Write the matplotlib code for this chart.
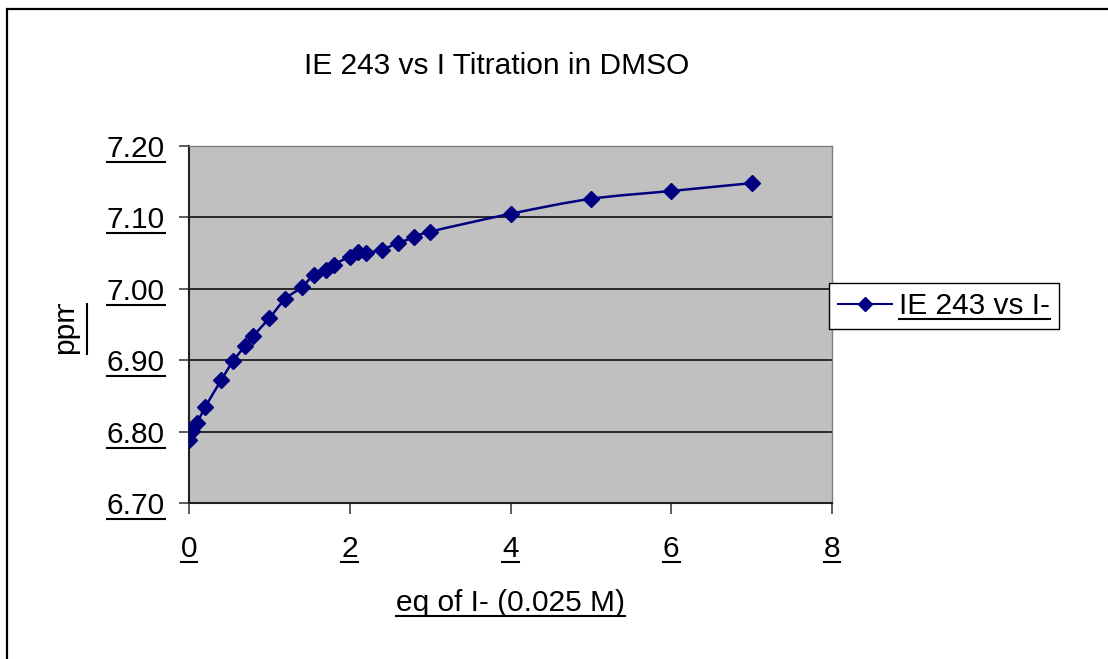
import numpy as np
import matplotlib
matplotlib.use("Agg")
import matplotlib.pyplot as plt
from matplotlib.path import Path
from matplotlib.patches import PathPatch, Rectangle
from matplotlib.lines import Line2D
from matplotlib.transforms import IdentityTransform, Bbox

# Titration data: equivalents of iodide added vs observed shift (ppm)
eq_iodide = [0.0, 0.04, 0.1, 0.2, 0.4, 0.55, 0.7, 0.8, 1.0, 1.2, 1.4, 1.55,
             1.7, 1.8, 2.0, 2.1, 2.2, 2.4, 2.6, 2.8, 3.0, 4.0, 5.0, 6.0, 7.0]
shift_ppm = [6.788, 6.801, 6.812, 6.834, 6.872, 6.899, 6.920, 6.934, 6.959,
             6.986, 7.002, 7.019, 7.026, 7.034, 7.045, 7.051, 7.050, 7.055,
             7.064, 7.072, 7.080, 7.105, 7.126, 7.137, 7.148]

x_ticks = [0, 2, 4, 6, 8]
y_ticks = [6.70, 6.80, 6.90, 7.00, 7.10, 7.20]

TITLE = "IE 243 vs I Titration in DMSO"
XLABEL = "eq of I- (0.025 M)"
YLABEL = "ppm"
SERIES = "IE 243 vs I-"

NAVY = "#000080"
FS = 21.5

plt.rcParams["font.family"] = ["Liberation Sans", "DejaVu Sans"]


def smooth_path(xs, ys):
    """Cubic Bezier through every point (Catmull-Rom style tangents)."""
    pts = np.column_stack([xs, ys])
    n = len(pts)
    verts, codes = [pts[0]], [Path.MOVETO]
    for i in range(n - 1):
        p0 = pts[max(i - 1, 0)]
        p1 = pts[i]
        p2 = pts[i + 1]
        p3 = pts[min(i + 2, n - 1)]
        verts += [p1 + (p2 - p0) / 6.0, p2 - (p3 - p1) / 6.0, p2]
        codes += [Path.CURVE4] * 3
    return Path(verts, codes)


W, H = 1108, 659
fig = plt.figure(figsize=(W / 100, H / 100), dpi=100)
fig.patch.set_facecolor("white")

# chart-area border (runs off the right and bottom edges)
fig.patches.append(Rectangle((7 / W, -0.05), 1.1, (H - 9) / H + 0.05,
                             transform=fig.transFigure, fill=False,
                             edgecolor="black", lw=1.6))

ax = fig.add_axes([189 / W, 156 / H, 643 / W, 357 / H])
ax.set_facecolor("#C0C0C0")

ax.add_patch(PathPatch(smooth_path(eq_iodide, shift_ppm), fill=False,
                       edgecolor=NAVY, lw=1.8, zorder=3))
ax.plot(eq_iodide, shift_ppm, ls="none", marker="D", ms=8.2, color=NAVY,
        zorder=4)

ax.set_xlim(0, 8)
ax.set_ylim(6.70, 7.20)
ax.set_xticks(x_ticks)
ax.set_xticklabels([str(t) for t in x_ticks])
ax.set_yticks(y_ticks)
ax.set_yticklabels([f"{t:.2f}" for t in y_ticks])
ax.yaxis.grid(True, color="black", lw=1.1)
ax.set_axisbelow(True)

ax.tick_params(axis="y", direction="out", length=7, width=1.1, pad=10.5,
               labelsize=FS, color="#303030")
ax.tick_params(axis="x", direction="out", length=8, width=1.1, pad=15,
               labelsize=FS, color="#303030")
for side in ("left", "bottom"):
    ax.spines[side].set_color("#202020")
    ax.spines[side].set_linewidth(1.5)
for side in ("top", "right"):
    ax.spines[side].set_color("#808080")
    ax.spines[side].set_linewidth(1.0)

ax.set_xlabel(XLABEL, fontsize=FS, labelpad=19)
ylab = ax.set_ylabel(YLABEL, fontsize=FS, labelpad=20)

fig.text(497 / W, 1 - 66 / H, TITLE, fontsize=FS, ha="center", va="center")

handle = Line2D([], [], color=NAVY, lw=1.5, marker="D", ms=7)
leg = ax.legend([handle], [SERIES], loc="center left",
                bbox_to_anchor=((829 - 189) / 643, (503 - 306) / 357),
                fontsize=FS, frameon=True, fancybox=False, framealpha=1,
                edgecolor="black", borderpad=0.3, handlelength=1.8,
                handletextpad=0.25, borderaxespad=0)
leg.get_frame().set_linewidth(1.0)

# underline the Excel-style labels
fig.canvas.draw()
renderer = fig.canvas.get_renderer()


def underline(txt, dy=1.0):
    bb = txt.get_window_extent(renderer)
    fig.add_artist(Line2D([bb.x0, bb.x1], [bb.y0 + dy] * 2, color="black",
                          lw=1.5, transform=IdentityTransform()))


for t in ax.get_xticklabels() + ax.get_yticklabels():
    underline(t)
underline(ax.xaxis.label)
underline(leg.get_texts()[0])

# y label: clipped at its upper end, underline on its baseline side
bb = ylab.get_window_extent(renderer)
ylab.set_clip_box(Bbox([[0, 0], [W, bb.y1 - 9]]))
ylab.set_clip_on(True)
fig.add_artist(Line2D([bb.x1 + 8] * 2, [bb.y0, bb.y1 - 9], color="black",
                      lw=1.5, transform=IdentityTransform()))

fig.savefig("out.png", dpi=100)
